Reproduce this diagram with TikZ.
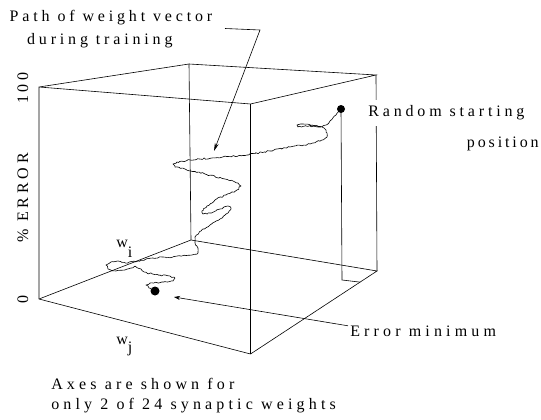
\documentclass[tikz,border=0pt]{standalone}
\usepackage{fontspec}
\setmainfont[LetterSpace=24]{Liberation Serif}
\usetikzlibrary{arrows.meta,decorations.pathmorphing,calc}
\begin{document}
\begin{tikzpicture}[x=1pt,y=-1pt,line width=0.6pt,
  txt/.style={inner sep=0pt,font=\fontsize{16}{19}\selectfont},
  widetxt/.style={txt,font=\fontsize{16}{19}\selectfont\addfontfeatures{LetterSpace=26}},
  narrowtxt/.style={txt,font=\fontsize{16}{19}\selectfont\addfontfeatures{LetterSpace=18}},
  edge/.style={line width=0.6pt},
  dot/.style={circle,fill=black,inner sep=0pt},
  wiggle/.style={decorate,decoration={random steps,segment length=2pt,amplitude=0.8pt},line width=0.6pt,line join=round}]
\useasboundingbox (0,0) rectangle (541,420);
% cube corners
\coordinate (A) at (39,299);
\coordinate (B) at (39,87);
\coordinate (C) at (189,64);
\coordinate (D) at (191,240);
\coordinate (E) at (376,75);
\coordinate (F) at (377,271);
\coordinate (G) at (250.5,104);
\coordinate (H) at (250.5,354);
\draw[edge] (A) -- (B) -- (C) -- (E) -- (G) -- (B);
\draw[edge] (G) -- (H);
\draw[edge] (C) -- (D);
\draw[edge] (E) -- (F);
\draw[edge] (A) -- (D) -- (F) -- (H) -- (A);
% path of weight vector
\pgfmathsetseed{11}
\draw[wiggle] (341,109) -- (336,115) -- (330,121) -- (326,125) -- (318,127) -- (305,126)
 -- (298,127) -- (297,125) -- (303,124) -- (312,125) -- (322,127) -- (326,130) -- (327,133)
 -- (327,137) -- (322,140) -- (310,144) -- (290,147) -- (270,151) -- (247,155)
 -- (212,158) -- (190,160) -- (177,162) -- (173,164) -- (175,167) -- (185,169) -- (205,174)
 -- (225,179) -- (238,183) -- (241,186) -- (237,190) -- (226,195) -- (215,200) -- (207,206)
 -- (202,211) -- (203,214) -- (210,213) -- (220,209) -- (228,206) -- (231,208) -- (228,213)
 -- (220,219) -- (210,225) -- (201,231) -- (195,237) -- (195,243) -- (198,248) -- (198,253)
 -- (192,255) -- (173,257) -- (153,258) -- (138,261) -- (128,263) -- (118,261) -- (111,262)
 -- (106,265) -- (108,269) -- (116,271) -- (125,270) -- (131,268) -- (135,266) -- (141,269)
 -- (147,273) -- (160,275) -- (170,276) -- (175,278) -- (173,281) -- (164,282) -- (150,283)
 -- (146,285) -- (149,288) -- (155,291);
% dots
\node[dot,minimum size=8pt] (start) at (341,109) {};
\node[dot,minimum size=9pt] (min) at (155,291) {};
% drop lines from start
\coordinate (sf) at (342,280);
\coordinate (se) at ($(F)!0.134!(H)$);
\draw[edge] (start.center) -- (sf) -- (se);
% labels
\node[txt,anchor=base west] (p1) at (9.4,21.5) {Path of weight vector};
\node[txt,anchor=base west] (p2) at (26.8,45) {during training};
\node[txt,anchor=base west,fill=white,inner xsep=1pt,inner ysep=6pt] (rs) at (367,116.7) {Random starting};
\node[narrowtxt,anchor=base east] (pos) at (539,147) {position};
\node[widetxt,anchor=base west] (em) at (350,336.7) {Error minimum};
\node[widetxt,anchor=base west] (ax1) at (51,389.7) {Axes are shown for};
\node[widetxt,anchor=base west] (ax2) at (51,409.7) {only 2 of 24 synaptic weights};
\node[txt,rotate=90,anchor=base] (l100) at (28,88) {100};
\node[txt,rotate=90,anchor=base] (lerr) at (28,198) {\% ERROR};
\node[txt,rotate=90,anchor=base] (l0) at (28,299) {0};
\node[txt,anchor=base west] (wi) at (116,247) {w\raisebox{-10pt}{i}};
\node[txt,anchor=base west] (wj) at (116,344.7) {w\raisebox{-8pt}{j}};
% leaders
\coordinate (pa1) at (225,28.5);
\coordinate (pa2) at (260,30);
\coordinate (patip) at (214,151);
\draw[edge,-{Stealth[length=8pt,width=4pt]}] (pa1) -- (pa2) -- (patip);
\coordinate (emtip) at (174,297);
\draw[edge,-{Stealth[length=6pt,width=4pt]}] ($(em.north west)+(-2,0)$) -- (emtip);
\end{tikzpicture}
\end{document}
